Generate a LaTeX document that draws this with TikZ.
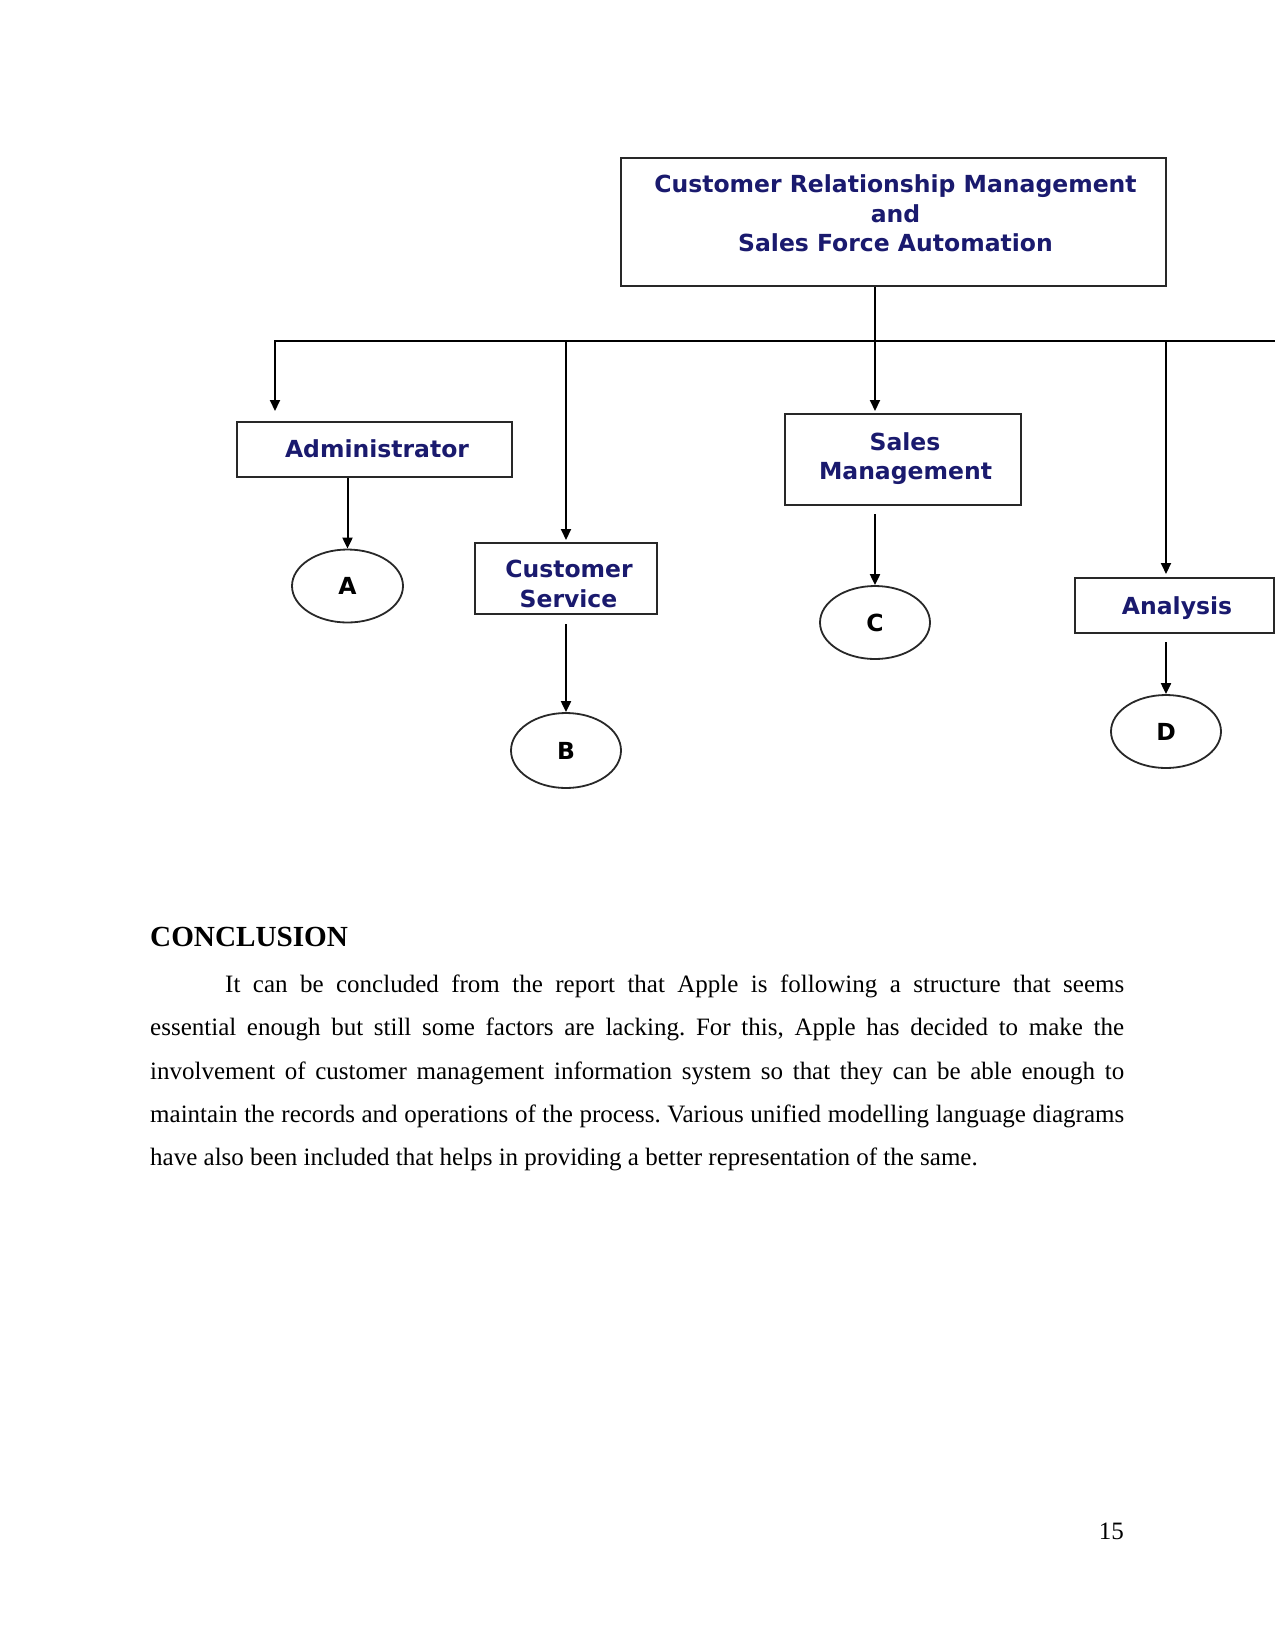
\documentclass[tikz,border=0pt]{standalone}
\usepackage{fontspec}
\setmainfont{Liberation Serif}
\newfontfamily\diagfont{DejaVu Sans}
\usetikzlibrary{arrows.meta,shapes.geometric}
\definecolor{navy}{RGB}{26,26,110}
\definecolor{edge}{RGB}{40,40,40}
\tikzset{
  box/.style={draw=edge, line width=2pt, rectangle, inner sep=0pt},
  lbl/.style={font=\diagfont\bfseries\fontsize{23.5}{28}\selectfont, text=navy, inner sep=0pt, anchor=base},
  oval/.style={ellipse, draw=edge, line width=1.8pt, inner sep=0pt, font=\diagfont\bfseries\fontsize{23.5}{28}\selectfont},
  conn/.style={draw=black, line width=2pt},
  arr/.style={draw=black, line width=2pt, -{Triangle[width=10pt,length=11pt]}},
  body/.style={font=\fontsize{25}{43.25}\selectfont, inner sep=0pt},
}
\frenchspacing
\begin{document}
\begin{tikzpicture}[x=1pt,y=-1pt]
\useasboundingbox (0,0) rectangle (1275,1650);
\fill[white] (0,0) rectangle (1275,1650);

% boxes
\node[box, minimum width=545pt, minimum height=128pt] (crm) at (893.5,222) {};
\node[lbl] (crm1) at (895.5,192) {Customer Relationship Management};
\node[lbl] (crm2) at (895.5,222) {and};
\node[lbl] (crm3) at (895.5,251) {Sales Force Automation};

\node[box, minimum width=275pt, minimum height=55pt] (admin) at (374.5,449.5) {};
\node[lbl] (admint) at (377,457) {Administrator};

\node[box, minimum width=182pt, minimum height=71pt] (cs) at (566,578.5) {};
\node[lbl] (cs1) at (569,577) {Customer};
\node[lbl] (cs2) at (568.5,607) {Service};

\node[box, minimum width=236pt, minimum height=91pt] (sm) at (903,459.5) {};
\node[lbl] (sm1) at (905,450) {Sales};
\node[lbl] (sm2) at (905.5,479) {Management};

\node[box, minimum width=199pt, minimum height=55pt] (an) at (1174.5,605.5) {};
\node[lbl] (ant) at (1177,614) {Analysis};

% ovals
\node[oval, minimum width=111pt, minimum height=73pt] (A) at (347.5,586) {A};
\node[oval, minimum width=110pt, minimum height=75pt] (B) at (566,750.5) {B};
\node[oval, minimum width=110pt, minimum height=73pt] (C) at (875,622.5) {C};
\node[oval, minimum width=110pt, minimum height=73pt] (D) at (1166,731.5) {D};

% connectors
\coordinate (busL) at (275,341);
\coordinate (busR) at (1275,341);
\draw[arr, shorten >=10pt] (busR) -- (busL) -- (busL |- admin.north);
\draw[arr, shorten >=2pt] (cs.north |- busL) -- (cs.north);
\draw[arr, shorten >=2pt] (crm.south -| C.north) -- (C.north |- sm.north);
\draw[arr, shorten >=3pt] (D.north |- busL) -- (D.north |- an.north);
\draw[arr] (A.north |- admin.south) -- (A.north);
\draw[arr, shorten <=9pt] (cs.south) -- (B.north);
\draw[arr, shorten <=8pt] (C.north |- sm.south) -- (C.north);
\draw[arr, shorten <=8pt] (D.north |- an.south) -- (D.north);

% text
\node[font=\bfseries\fontsize{29.17}{34}\selectfont, inner sep=0pt, anchor=base west] (head) at (150,946.7) {CONCLUSION};
\node[body, text width=974pt, align=justify, anchor=base west] (para) at (150,992.7)
{\hspace*{75pt}It can be concluded from the report that Apple is following a structure that seems\linebreak
essential enough but still some factors are lacking. For this, Apple has decided to make the\linebreak
involvement of customer management information system so that they can be able enough to\linebreak
maintain the records and operations of the process. Various unified modelling language diagrams\linebreak
have also been included that helps in providing a better representation of the same.};
\node[font=\fontsize{25}{30}\selectfont, inner sep=0pt, anchor=base east] (pgno) at (1124,1539) {15};
\end{tikzpicture}
\end{document}
